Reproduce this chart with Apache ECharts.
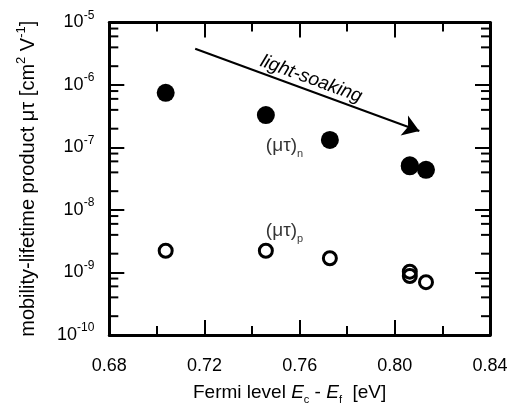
<!DOCTYPE html>
<html>
<head>
<meta charset="utf-8">
<script src="https://cdn.jsdelivr.net/npm/echarts@6/dist/echarts.min.js"></script>
<style>
html,body{margin:0;padding:0;background:#fff;}
#chart{width:509px;height:407px;}
</style>
</head>
<body>
<div id="chart"></div>
<script>
// ---- data ----
const fermiN = [0.7037, 0.7458, 0.7727, 0.8063, 0.8063, 0.8131];
const muTauN = [7.5e-7, 3.3e-7, 1.32e-7, 5.2e-8, 5.0e-8, 4.4e-8];
const fermiP = [0.7037, 0.7458, 0.7727, 0.8063, 0.8063, 0.8131];
const muTauP = [2.23e-9, 2.23e-9, 1.69e-9, 1.03e-9, 8.8e-10, 7.0e-10];

// ---- axis ranges / minor tick multipliers ----
const X_MIN = 0.68, X_MAX = 0.84, X_STEP = 0.04;
const Y_MIN = 1e-10, Y_MAX = 1e-5;
const minorMultipliers = [2, 4, 6, 8];
const decades = [-10, -9, -8, -7, -6];

// ---- annotations (data coordinates) ----
const arrowStart = [0.7161, 3.8e-6];
const arrowEnd = [0.8103, 1.84e-7];
const arrowText = 'light-soaking';
const labelN = { x: 0.7458, y: 1.06e-7, text: '(μτ)', sub: 'n' };
const labelP = { x: 0.7458, y: 4.7e-9, text: '(μτ)', sub: 'p' };

const FONT = 'Liberation Sans, Arial, Helvetica, sans-serif';

const yMinorTicks = [];
decades.forEach(d => minorMultipliers.forEach(m => yMinorTicks.push(m * Math.pow(10, d))));

function mkAxisLine() { return { show: true, onZero: false, lineStyle: { color: '#000', width: 3 } }; }
function mkAxisTick() { return { show: true, inside: true, length: 15, lineStyle: { color: '#000', width: 2 } }; }
function mkMinor() { return { show: true, splitNumber: 2, length: 9, lineStyle: { color: '#000', width: 2 } }; }

function buildOption() {
  return {
    backgroundColor: '#fff',
    animation: false,
    grid: { left: 109.3, top: 22.5, right: 19, bottom: 72, containLabel: false, outerBoundsMode: 'none' },
    xAxis: [
      {
        type: 'value', min: X_MIN, max: X_MAX, interval: X_STEP, position: 'bottom',
        axisLine: mkAxisLine(), axisTick: mkAxisTick(), minorTick: mkMinor(),
        splitLine: { show: false },
        axisLabel: { margin: 22, color: '#000', fontFamily: FONT, fontSize: 18,
          formatter: v => v.toFixed(2) },
        name: 'Fermi level {i|E}{sub|c} - {i|E}{sub|f}  [eV]',
        nameLocation: 'middle', nameGap: 46,
        nameTextStyle: {
          color: '#000', fontFamily: FONT, fontSize: 19, lineHeight: 24, padding: [0, 20, 0, 0],
          rich: {
            i: { fontStyle: 'italic', fontFamily: FONT, fontSize: 19, lineHeight: 24, color: '#000' },
            sub: { fontFamily: FONT, fontSize: 11, verticalAlign: 'bottom', color: '#000' }
          }
        }
      },
      {
        type: 'value', min: X_MIN, max: X_MAX, interval: X_STEP, position: 'top',
        axisLine: mkAxisLine(), axisTick: mkAxisTick(), minorTick: mkMinor(),
        splitLine: { show: false }, axisLabel: { show: false }
      }
    ],
    yAxis: [
      {
        type: 'log', logBase: 10, min: Y_MIN, max: Y_MAX, position: 'left',
        axisLine: mkAxisLine(), axisTick: mkAxisTick(), splitLine: { show: false },
        axisLabel: {
          margin: 15, color: '#000', fontFamily: FONT, fontSize: 18,
          formatter: v => '{b|10}{s|' + Math.round(Math.log10(v)) + '}',
          rich: {
            b: { fontFamily: FONT, fontSize: 18, lineHeight: 26, color: '#000' },
            s: { fontFamily: FONT, fontSize: 12, verticalAlign: 'top', color: '#000' }
          }
        },
        name: 'mobility-lifetime product μτ [cm{s|2} V{s|-1}]',
        nameLocation: 'middle', nameGap: 68, nameRotate: 90,
        nameTextStyle: {
          color: '#000', fontFamily: FONT, fontSize: 20, lineHeight: 26,
          rich: { s: { fontFamily: FONT, fontSize: 13, verticalAlign: 'top', color: '#000' } }
        }
      },
      {
        type: 'log', logBase: 10, min: Y_MIN, max: Y_MAX, position: 'right',
        axisLine: mkAxisLine(), axisTick: mkAxisTick(), splitLine: { show: false },
        axisLabel: { show: false }
      }
    ],
    series: [
      {
        name: 'minor y ticks', type: 'custom', xAxisIndex: 0, yAxisIndex: 0, clip: false, silent: true,
        data: yMinorTicks.map(v => [X_MIN, v]),
        renderItem: function (params, api) {
          const v = api.value(1);
          const pL = api.coord([X_MIN, v]);
          const pR = api.coord([X_MAX, v]);
          return {
            type: 'group',
            children: [
              { type: 'line', shape: { x1: pL[0], y1: pL[1], x2: pL[0] + 9, y2: pL[1] }, style: { stroke: '#000', lineWidth: 2 } },
              { type: 'line', shape: { x1: pR[0], y1: pR[1], x2: pR[0] - 9, y2: pR[1] }, style: { stroke: '#000', lineWidth: 2 } }
            ]
          };
        }
      },
      {
        name: '(μτ)n', type: 'scatter', symbol: 'circle', symbolSize: 18,
        itemStyle: { color: '#000', opacity: 1 },
        data: fermiN.map((x, i) => [x, muTauN[i]]),
        markLine: {
          silent: true, symbol: ['none', 'arrow'], symbolSize: 16, precision: 10,
          lineStyle: { color: '#000', width: 2, type: 'solid', opacity: 1 },
          label: {
            show: true, position: 'middle', formatter: arrowText, distance: 2,
            color: '#000', fontFamily: FONT, fontSize: 19, fontStyle: 'italic'
          },
          data: [[{ coord: arrowStart }, { coord: arrowEnd }]]
        }
      },
      {
        name: '(μτ)p', type: 'scatter', symbol: 'circle', symbolSize: 13,
        itemStyle: { color: 'rgba(255,255,255,0)', borderColor: '#000', borderWidth: 3, opacity: 1 },
        data: fermiP.map((x, i) => [x, muTauP[i]])
      },
      {
        name: 'labels', type: 'scatter', symbolSize: 0, silent: true,
        data: [labelN, labelP].map(l => ({ value: [l.x, l.y], text: l.text, sub: l.sub })),
        label: {
          show: true, position: 'right', distance: 0,
          formatter: p => '{m|' + p.data.text + '}{sub|' + p.data.sub + '}',
          rich: {
            m: { fontFamily: FONT, fontSize: 19, lineHeight: 28, color: '#000' },
            sub: { fontFamily: FONT, fontSize: 11, verticalAlign: 'bottom', color: '#000' }
          }
        }
      }
    ]
  };
}

const chart = echarts.init(document.getElementById('chart'), null, { renderer: 'canvas' });
chart.setOption(buildOption());

function redraw() {
  chart.clear();
  chart.setOption(buildOption());
  chart.getZr().refreshImmediately();
}
setTimeout(redraw, 60);
if (document.fonts && document.fonts.ready) document.fonts.ready.then(function () { setTimeout(redraw, 0); });
</script>
</body>
</html>
